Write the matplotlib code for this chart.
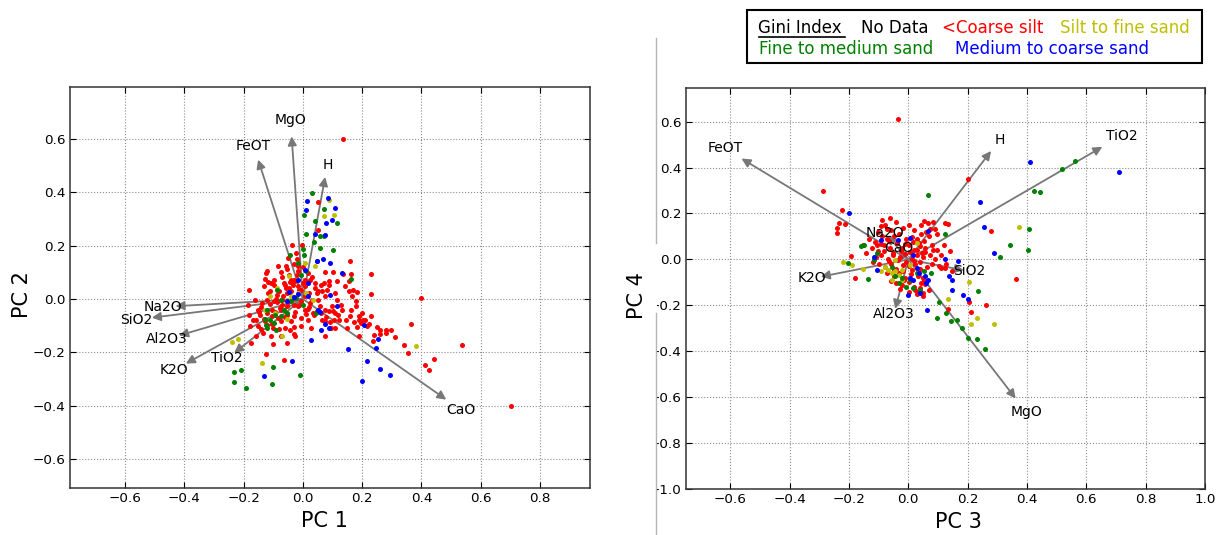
import matplotlib
matplotlib.use('Agg')
import matplotlib.pyplot as plt
from matplotlib.lines import Line2D
from matplotlib.patches import Rectangle
from matplotlib.transforms import Bbox, TransformedBbox

# ---- loadings (arrow tips) ----
left_vars = ['MgO', 'FeOT', 'H', 'Na2O', 'SiO2', 'Al2O3', 'K2O', 'TiO2', 'CaO']
left_load_x = [-0.038, -0.151, 0.075, -0.430, -0.510, -0.418, -0.395, -0.232, 0.484]
left_load_y = [0.609, 0.522, 0.457, -0.027, -0.070, -0.137, -0.242, -0.202, -0.377]

right_vars = ['FeOT', 'H', 'TiO2', 'MgO', 'Na2O', 'CaO', 'K2O', 'SiO2', 'Al2O3']
right_load_x = [-0.562, 0.279, 0.654, 0.362, -0.071, -0.029, -0.295, 0.187, -0.044]
right_load_y = [0.439, 0.472, 0.490, -0.605, 0.105, 0.045, -0.075, -0.047, -0.215]

# ---- scores, PC1 / PC2 ----
l_red_x = [0.136, 0.398, 0.702, 0.536, 0.443, 0.412, 0.426, 0.356, 0.342, 0.366, 0.311, 0.296, 0.280, 0.261,
           0.261, 0.240, 0.238, 0.230, 0.224, 0.203, 0.200, 0.197, 0.182, 0.189, 0.171, 0.159, 0.149, 0.145,
           0.133, 0.122, 0.110, 0.128, 0.107, 0.116, 0.099, 0.110, 0.180, 0.166, 0.154, 0.143, 0.168, 0.157,
           0.162, 0.159, 0.182, 0.230, 0.230, 0.137, 0.102, 0.075, 0.089, 0.116, 0.072, 0.060, 0.041, 0.031,
           0.052, 0.046, 0.035, 0.017, 0.006, 0.066, 0.075, 0.096, 0.075, 0.104, 0.101, 0.089, -0.027, -0.043,
           -0.060, -0.079, -0.101, -0.122, -0.131, -0.142, -0.153, -0.168, -0.180, -0.182, -0.186, -0.181,
           -0.174, -0.125, -0.102, -0.064, -0.029, 0.052, 0.050, -0.003, -0.038, -0.049, -0.058, -0.122,
           -0.128, -0.084, -0.075, -0.046, -0.017, -0.031, -0.064, -0.099, -0.110, -0.087, -0.058, -0.035,
           -0.017, -0.006, 0.008, 0.020, -0.052, -0.070, -0.099, -0.122, -0.139, -0.151, -0.122, -0.104,
           -0.075, -0.052, -0.029, -0.006, -0.017, -0.052, -0.029, -0.006, -0.075, -0.104, -0.145, -0.157,
           -0.133, -0.157, -0.108, -0.075, -0.052, -0.029, -0.006, 0.017, -0.124, 0.006, 0.023, -0.017,
           -0.023, -0.041, 0.008, 0.023, 0.046, 0.064, 0.075, 0.081, 0.087, 0.058, 0.075, 0.029, 0.162,
           0.178, 0.191, 0.209, 0.191, 0.215, 0.250, 0.279, -0.090, -0.081, -0.062, -0.041, -0.032, -0.051,
           -0.072, -0.093, -0.112, -0.118, -0.132, -0.098, -0.069, -0.043, -0.021, 0.002, 0.011, -0.012,
           -0.028, -0.061, -0.083, -0.104, -0.128, -0.141, -0.163, -0.148, -0.052, -0.031, -0.019, 0.001,
           0.018, 0.032, 0.042, 0.051, 0.022, 0.038, 0.061, 0.079, 0.091, 0.118, -0.068, -0.047, -0.025,
           -0.088, -0.108, -0.014, 0.012, -0.039, -0.077, -0.118]
l_red_y = [0.599, 0.004, -0.402, -0.174, -0.223, -0.248, -0.267, -0.202, -0.174, -0.095, -0.144, -0.117, -0.117,
           -0.115, -0.130, -0.135, -0.159, -0.065, -0.094, -0.077, -0.052, -0.090, -0.105, -0.137, -0.087,
           -0.062, -0.109, -0.077, -0.040, -0.077, -0.109, -0.024, 0.022, -0.002, -0.027, -0.052, -0.009,
           0.010, 0.029, 0.047, 0.035, 0.066, 0.094, 0.141, 0.025, 0.095, 0.020, 0.095, 0.101, 0.100, 0.066,
           0.066, 0.060, 0.054, 0.040, -0.002, -0.002, -0.044, -0.052, -0.037, -0.040, -0.077, -0.084, -0.109,
           -0.137, -0.077, -0.046, -0.045, -0.140, -0.117, -0.109, -0.112, -0.109, -0.096, -0.075, -0.112,
           -0.102, -0.077, -0.102, -0.059, -0.021, 0.032, -0.165, -0.205, -0.169, -0.227, -0.105, 0.260,
           0.363, 0.202, 0.202, 0.154, 0.122, 0.104, 0.076, 0.122, 0.100, 0.091, 0.104, 0.072, 0.060, 0.054,
           0.029, 0.016, 0.041, 0.054, 0.047, 0.035, 0.047, 0.022, 0.022, -0.002, -0.009, -0.002, -0.015,
           -0.040, -0.052, -0.040, -0.040, -0.027, -0.021, -0.009, -0.027, -0.059, -0.065, -0.071, -0.084,
           -0.065, -0.059, -0.077, -0.127, -0.140, -0.140, -0.137, -0.165, -0.130, -0.102, -0.077, 0.097,
           0.010, -0.015, 0.122, 0.172, 0.072, 0.072, 0.072, 0.022, 0.029, 0.010, 0.032, 0.054, -0.027,
           -0.040, -0.109, -0.040, -0.027, -0.065, -0.077, -0.077, -0.102, -0.105, -0.127, 0.000, 0.031,
           0.052, 0.029, 0.002, -0.011, -0.021, -0.048, -0.019, 0.021, 0.048, 0.071, 0.082, 0.062, 0.088,
           0.061, 0.018, -0.022, -0.049, -0.068, -0.072, -0.092, -0.081, -0.031, -0.003, -0.048, 0.112,
           0.131, 0.148, 0.118, 0.098, 0.081, 0.058, 0.031, -0.031, -0.061, -0.052, -0.068, -0.088, -0.061,
           0.012, 0.041, 0.068, -0.012, 0.058, 0.035, -0.055, -0.082, -0.034, 0.062]

l_yel_x = [0.087, 0.072, 0.104, 0.381, -0.218, -0.238, -0.137, -0.070, -0.087, -0.046, -0.041, -0.052, -0.017,
           0.012, 0.035, -0.110, -0.093, -0.052, -0.128, 0.006, 0.041]
l_yel_y = [0.370, 0.312, 0.316, -0.177, -0.150, -0.162, -0.240, -0.137, 0.041, 0.085, 0.010, -0.002, 0.022,
           0.022, -0.002, 0.010, -0.052, -0.075, -0.040, 0.135, 0.122]

l_grn_x = [0.031, 0.070, 0.003, 0.041, 0.114, 0.010, 0.058, 0.070, 0.038, 0.102, 0.058, 0.046, 0.001, 0.003,
           -0.045, -0.015, 0.162, 0.012, -0.006, -0.009, -0.102, -0.104, -0.209, -0.234, -0.232, -0.192,
           0.043, 0.000, -0.087, -0.075, -0.122, -0.128, -0.110, -0.093, -0.099, -0.064, -0.052, -0.041,
           -0.023, -0.075, -0.122, -0.124, -0.090]
l_grn_y = [0.397, 0.338, 0.313, 0.291, 0.285, 0.245, 0.237, 0.237, 0.212, 0.185, 0.191, 0.141, 0.189, 0.166,
           0.166, 0.135, 0.076, 0.104, 0.091, -0.286, -0.256, -0.318, -0.267, -0.273, -0.312, -0.333, -0.052,
           -0.021, 0.035, -0.002, -0.040, -0.075, -0.080, -0.059, -0.090, -0.040, -0.052, -0.009, 0.004,
           -0.065, -0.109, -0.096, -0.115]

l_blu_x = [0.085, 0.014, 0.009, 0.110, 0.099, 0.079, 0.041, 0.075, 0.046, 0.068, 0.091, 0.008, -0.017, 0.017,
           0.131, 0.093, 0.116, 0.060, 0.073, 0.087, 0.029, -0.038, -0.131, 0.151, 0.207, 0.252, 0.247,
           0.218, 0.261, 0.294, 0.198, -0.046, -0.029, -0.015, -0.052, 0.017, 0.052, 0.058]
l_blu_y = [0.378, 0.368, 0.332, 0.341, 0.295, 0.285, 0.243, 0.241, 0.144, 0.150, 0.135, 0.107, 0.072, 0.060,
           0.097, 0.016, -0.025, -0.115, -0.094, -0.109, -0.152, -0.231, -0.290, -0.187, -0.096, -0.149,
           -0.184, -0.233, -0.261, -0.286, -0.308, 0.025, 0.007, 0.020, -0.009, 0.012, -0.040, -0.049]

# ---- scores, PC3 / PC4 ----
r_red_x = [-0.035, -0.288, -0.223, -0.212, -0.234, -0.239, -0.241, 0.200, 0.279, 0.362, 0.261, 0.210, 0.206,
           0.133, -0.180, -0.193, -0.089, -0.093, 0.054, 0.066, 0.124, 0.133, 0.141, 0.084, 0.041, 0.029,
           0.048, 0.096, 0.112, 0.124, -0.101, -0.079, -0.058, -0.041, -0.019, 0.002, 0.021, 0.043, 0.061,
           -0.112, -0.088, -0.071, -0.048, -0.031, -0.008, 0.012, 0.031, 0.052, 0.069, -0.121, -0.102,
           -0.082, -0.061, -0.039, -0.022, 0.003, 0.019, 0.038, 0.058, 0.081, -0.109, -0.091, -0.068, -0.052,
           -0.028, -0.011, 0.011, 0.029, 0.051, 0.072, 0.091, -0.098, -0.079, -0.059, -0.042, -0.018, 0.001,
           0.022, 0.041, 0.062, 0.079, 0.102, -0.072, -0.049, -0.031, -0.012, 0.009, 0.032, 0.049, -0.041,
           -0.021, 0.002, 0.018, 0.042, 0.058, 0.003, 0.031, -0.029, 0.051, 0.071, -0.132, -0.141, 0.109,
           0.121, 0.098, -0.062, 0.082, 0.091, -0.118, -0.152, 0.128, 0.149, -0.091, -0.066, -0.038, -0.012,
           0.015, 0.036, 0.058, -0.081, -0.052, -0.024, 0.007, 0.028, 0.047, -0.064, -0.036, -0.009, 0.021,
           0.039, -0.048, -0.019, 0.011, 0.033, -0.105, 0.072, -0.071, 0.052, -0.015, 0.024, -0.058, 0.043]
r_red_y = [0.613, 0.297, 0.217, 0.156, 0.158, 0.137, 0.115, 0.352, 0.125, -0.083, -0.199, -0.230, -0.183,
           -0.217, -0.081, 0.017, 0.170, 0.144, 0.166, 0.158, 0.158, 0.154, 0.035, 0.042, -0.125, -0.140,
           -0.147, 0.041, -0.039, -0.039, 0.121, 0.149, 0.128, 0.162, 0.139, 0.151, 0.128, 0.148, 0.118,
           0.078, 0.102, 0.088, 0.101, 0.112, 0.087, 0.098, 0.089, 0.079, 0.103, 0.051, 0.038, 0.062, 0.048,
           0.071, 0.052, 0.061, 0.041, 0.059, 0.049, 0.061, 0.012, 0.021, 0.003, 0.019, 0.011, 0.022, 0.002,
           0.018, 0.009, 0.021, 0.001, -0.021, -0.031, -0.018, -0.042, -0.022, -0.029, -0.018, -0.041,
           -0.031, -0.019, -0.029, -0.061, -0.071, -0.058, -0.079, -0.062, -0.071, -0.082, -0.101, -0.112,
           -0.098, -0.119, -0.102, -0.108, -0.141, -0.152, -0.129, -0.161, -0.131, 0.089, 0.028, 0.019,
           0.061, 0.109, 0.182, 0.162, 0.131, -0.012, 0.061, -0.021, -0.052, 0.068, 0.081, 0.072, 0.068,
           0.074, 0.071, 0.032, 0.035, 0.029, 0.038, 0.031, 0.042, 0.028, -0.008, -0.004, -0.011, -0.006,
           -0.009, -0.048, -0.052, -0.047, -0.058, 0.062, 0.131, 0.131, -0.089, -0.091, -0.132, -0.092, 0.111]

r_yel_x = [0.374, -0.221, -0.188, -0.154, 0.206, 0.135, 0.230, 0.210, 0.289, -0.068, -0.056, -0.044, -0.032,
           -0.020, 0.005, 0.029, -0.044, -0.080, -0.093, -0.056, -0.020]
r_yel_y = [0.142, -0.012, -0.025, -0.041, -0.100, -0.172, -0.253, -0.282, -0.279, -0.045, -0.060, -0.052,
           -0.067, -0.045, -0.023, 0.071, -0.001, -0.031, -0.052, -0.089, -0.089]

r_grn_x = [0.066, 0.562, 0.517, 0.423, 0.444, 0.407, 0.405, 0.344, 0.310, 0.124, 0.234, 0.102, 0.096, 0.127,
           0.143, 0.163, 0.182, 0.200, 0.230, 0.259, -0.202, -0.135, -0.160, -0.148, -0.056, -0.044, -0.020,
           0.005, 0.029, 0.054, 0.078, -0.007, -0.032, 0.017, 0.041, -0.105, -0.117]
r_grn_y = [0.282, 0.430, 0.394, 0.297, 0.295, 0.132, 0.042, 0.061, 0.010, 0.112, -0.138, -0.183, -0.254,
           -0.231, -0.266, -0.263, -0.297, -0.340, -0.347, -0.388, -0.016, -0.084, 0.057, 0.064, -0.031,
           -0.074, -0.081, -0.089, -0.060, -0.052, -0.060, -0.118, -0.103, -0.125, -0.132, 0.028, -0.001]

r_blu_x = [-0.199, 0.410, 0.710, 0.243, 0.255, 0.288, 0.166, 0.124, 0.137, 0.149, 0.149, 0.185, 0.200, 0.063,
           0.066, -0.093, -0.117, -0.105, -0.001, 0.041, 0.060, 0.066, 0.057, 0.029, 0.035, 0.017, 0.005,
           -0.034, 0.005, 0.017]
r_blu_y = [0.203, 0.422, 0.379, 0.251, 0.140, 0.028, -0.006, 0.003, -0.074, -0.089, -0.135, -0.154, -0.172,
           -0.219, 0.122, 0.083, 0.009, -0.048, -0.154, -0.147, -0.103, -0.089, -0.074, -0.038, -0.060,
           -0.089, -0.081, 0.086, 0.093, 0.020]

W, H = 1219, 535


def draw_biplot(ax, groups, names, lx, ly, xlim, ylim, xticks, yticks):
    for gx, gy, col in groups:
        ax.scatter(gx, gy, s=13, c=col, linewidths=0, zorder=2)
    for name, x, y in zip(names, lx, ly):
        ax.annotate('', xy=(x, y), xytext=(0, 0), zorder=1,
                    arrowprops=dict(arrowstyle='-|>', color='#777777', lw=1.3,
                                    mutation_scale=13, shrinkA=0, shrinkB=0))
        ax.text(x * 1.1, y * 1.1, name, fontsize=10, ha='center', va='center', zorder=3)
    ax.set_xlim(*xlim)
    ax.set_ylim(*ylim)
    ax.set_xticks(xticks)
    ax.set_yticks(yticks)
    ax.grid(True, linestyle=':', color='#8c8c8c', linewidth=0.8)
    ax.set_axisbelow(True)
    ax.tick_params(direction='in', top=True, right=True, length=4, labelsize=9.7, pad=3)
    for sp in ax.spines.values():
        sp.set_linewidth(1.1)
        sp.set_color('#333333')


fig = plt.figure(figsize=(W / 100, H / 100), dpi=100)
ax1 = fig.add_axes([70 / W, 1 - 488 / H, 520 / W, 401 / H])
ax2 = fig.add_axes([685.7 / W, 1 - 489.3 / H, 519.3 / W, 401.3 / H])

draw_biplot(ax1, [(l_red_x, l_red_y, '#ff0000'), (l_yel_x, l_yel_y, '#bfbf00'),
                  (l_grn_x, l_grn_y, '#008000'), (l_blu_x, l_blu_y, '#0000ff')],
            left_vars, left_load_x, left_load_y, (-0.786, 0.969), (-0.708, 0.794),
            [-0.6, -0.4, -0.2, 0.0, 0.2, 0.4, 0.6, 0.8], [-0.6, -0.4, -0.2, 0.0, 0.2, 0.4, 0.6])
draw_biplot(ax2, [(r_red_x, r_red_y, '#ff0000'), (r_yel_x, r_yel_y, '#bfbf00'),
                  (r_grn_x, r_grn_y, '#008000'), (r_blu_x, r_blu_y, '#0000ff')],
            right_vars, right_load_x, right_load_y, (-0.75, 1.0), (-1.0, 0.746),
            [-0.6, -0.4, -0.2, 0.0, 0.2, 0.4, 0.6, 0.8, 1.0],
            [-1.0, -0.8, -0.6, -0.4, -0.2, 0.0, 0.2, 0.4, 0.6])

ax1.set_xlabel('PC 1', fontsize=15, labelpad=4)
ax1.set_ylabel('PC 2', fontsize=15, labelpad=1)
ax2.set_xlabel('PC 3', fontsize=15, labelpad=4)
ax2.set_ylabel('PC 4', fontsize=15, labelpad=1)
ax1.xaxis.label.set_x(0.49)
ax2.xaxis.label.set_x(0.525)
ax1.yaxis.label.set_y(0.482)
ax2.yaxis.label.set_y(0.482)

# right panel was cut at the separator: clip its y tick labels there
clip = TransformedBbox(Bbox([[657 / W, 0], [1, 1]]), fig.transFigure)
for lbl in ax2.get_yticklabels():
    lbl.set_clip_box(clip)
    lbl.set_clip_on(True)

# separator line between the two panels
sep_x = 656 / W
fig.add_artist(Line2D([sep_x, sep_x], [1 - 38 / H, 1 - 243 / H], transform=fig.transFigure,
                      color='#b5b5b5', lw=1))
fig.add_artist(Line2D([sep_x, sep_x], [1 - 313 / H, 0], transform=fig.transFigure,
                      color='#b5b5b5', lw=1))

# colour key box
fig.add_artist(Rectangle((747 / W, 1 - 63 / H), 455 / W, 53 / H, transform=fig.transFigure,
                         fill=False, ec='black', lw=1.5))
row1 = 1 - 33.3 / H
row2 = 1 - 54 / H
fig.text(758.5 / W, row1, 'Gini Index', fontsize=12, color='black', va='baseline')
fig.add_artist(Line2D([758.5 / W, 845 / W], [1 - 36.7 / H] * 2, transform=fig.transFigure,
                      color='black', lw=1.2))
fig.text(861 / W, row1, 'No Data', fontsize=12, color='black', va='baseline')
fig.text(942 / W, row1, '<Coarse silt', fontsize=12, color='#ff0000', va='baseline')
fig.text(1060 / W, row1, 'Silt to fine sand', fontsize=12, color='#bfbf00', va='baseline')
fig.text(759 / W, row2, 'Fine to medium sand', fontsize=12, color='#008000', va='baseline')
fig.text(955.4 / W, row2, 'Medium to coarse sand', fontsize=12, color='#0000ff', va='baseline')

fig.savefig('out.png', dpi=100)
